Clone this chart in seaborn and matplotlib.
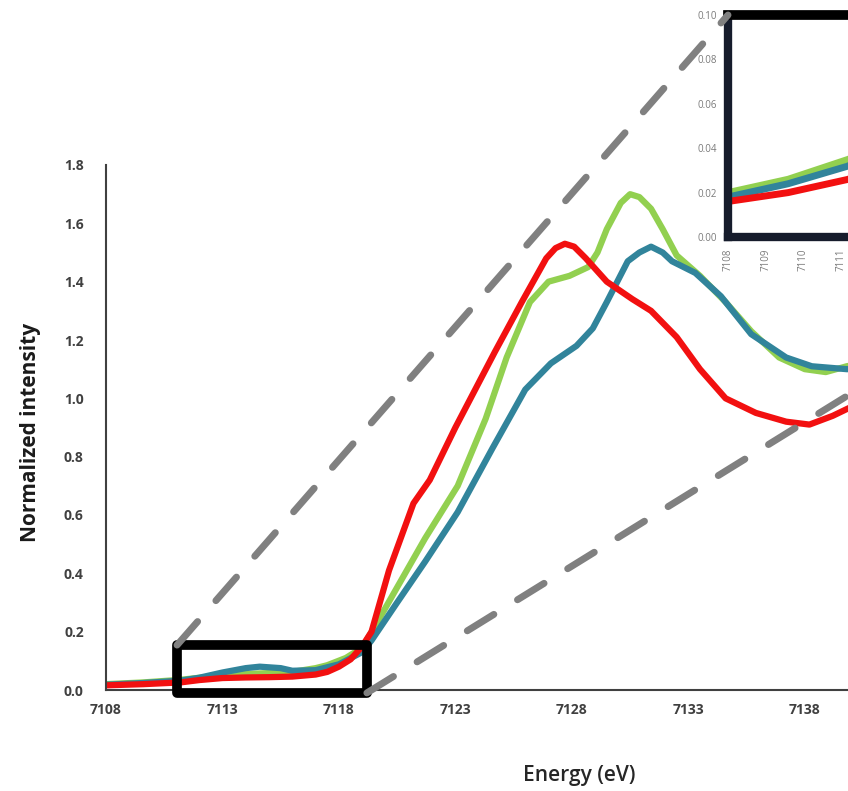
import numpy as np
import pandas as pd
import matplotlib
matplotlib.use('Agg')
import matplotlib.pyplot as plt
from matplotlib.patches import Rectangle, ConnectionPatch
from matplotlib.ticker import FormatStrFormatter
import seaborn as sns

# values (energy in eV, normalized intensity)
green_energy = [7108, 7109.6, 7111.2, 7112, 7113, 7114, 7115, 7116, 7117, 7117.5, 7118.3,
                7119, 7119.7, 7120.7, 7121.7, 7123.1, 7124.3, 7125.2, 7126.2, 7127.0, 7127.9,
                7128.7, 7129.1, 7129.5, 7130.1, 7130.5, 7130.9, 7131.4, 7131.9, 7132.5,
                7133.5, 7134.6, 7135.7, 7136.9, 7138.0, 7138.9, 7139.8, 7140.5]
green_int = [0.020, 0.026, 0.035, 0.042, 0.050, 0.055, 0.058, 0.062, 0.075, 0.085, 0.11,
             0.145, 0.24, 0.38, 0.52, 0.70, 0.93, 1.14, 1.33, 1.40, 1.42,
             1.45, 1.50, 1.58, 1.67, 1.70, 1.69, 1.65, 1.58, 1.49,
             1.42, 1.33, 1.23, 1.14, 1.10, 1.09, 1.11, 1.12]

blue_energy = [7108, 7109.6, 7111.2, 7112, 7113, 7114, 7114.6, 7115.5, 7116, 7117, 7118,
               7119, 7119.4, 7120.5, 7121.7, 7123.1, 7124.6, 7126.0, 7127.1, 7128.2, 7128.9,
               7129.5, 7130.4, 7130.9, 7131.4, 7131.9, 7132.3, 7133.3, 7134.4, 7135.7,
               7137.2, 7138.3, 7139.8, 7140.5]
blue_int = [0.018, 0.024, 0.032, 0.042, 0.060, 0.075, 0.080, 0.075, 0.066, 0.068, 0.088,
            0.13, 0.17, 0.30, 0.44, 0.61, 0.83, 1.03, 1.12, 1.18, 1.24,
            1.33, 1.47, 1.50, 1.52, 1.50, 1.47, 1.43, 1.35, 1.22,
            1.14, 1.11, 1.10, 1.10]

red_energy = [7108, 7109.6, 7111.2, 7112, 7113, 7114, 7115, 7116, 7117, 7117.5, 7118,
              7118.5, 7119, 7119.4, 7120.15, 7121.2, 7121.9, 7123.0, 7124.7, 7125.85,
              7126.9, 7127.3, 7127.7, 7128.1, 7128.6, 7129.5, 7130.6, 7131.4, 7132.5,
              7133.5, 7134.6, 7135.9, 7137.2, 7138.2, 7139.2, 7140.5]
red_int = [0.016, 0.020, 0.026, 0.034, 0.041, 0.043, 0.044, 0.046, 0.053, 0.062, 0.080,
           0.105, 0.150, 0.20, 0.41, 0.64, 0.72, 0.90, 1.16, 1.33,
           1.48, 1.515, 1.53, 1.52, 1.48, 1.40, 1.34, 1.30, 1.21,
           1.10, 1.00, 0.95, 0.92, 0.91, 0.94, 0.99]

# only the ticks that show inside the cropped picture
x_ticks = [7108, 7113, 7118, 7123, 7128, 7133, 7138]
y_ticks = [0.0, 0.2, 0.4, 0.6, 0.8, 1.0, 1.2, 1.4, 1.6, 1.8]
inset_x_ticks = [7108, 7109, 7110, 7111]
inset_y_ticks = [0.00, 0.02, 0.04, 0.06, 0.08, 0.10]

series = ['green', 'blue', 'red']
palette = {'green': '#92D050', 'blue': '#31849B', 'red': '#F21010'}

df = pd.concat([
    pd.DataFrame({'energy': green_energy, 'intensity': green_int, 'sample': 'green'}),
    pd.DataFrame({'energy': blue_energy, 'intensity': blue_int, 'sample': 'blue'}),
    pd.DataFrame({'energy': red_energy, 'intensity': red_int, 'sample': 'red'}),
], ignore_index=True)

sns.set_style('white')
plt.rcParams['font.family'] = ['Open Sans', 'DejaVu Sans']

fig = plt.figure(figsize=(8.48, 7.91), dpi=100)

# main axes (the picture is cropped on the right, so the axes run past the edge)
ax = fig.add_axes([106 / 848, 101 / 791, 955 / 848, 525 / 791])
sns.lineplot(data=df, x='energy', y='intensity', hue='sample', hue_order=series,
             palette=palette, lw=4.5, sort=False, estimator=None, legend=False, ax=ax)
ax.set_xlim(7108, 7149)
ax.set_ylim(0, 1.8)
ax.set_xticks(x_ticks)
ax.set_yticks(y_ticks)
ax.yaxis.set_major_formatter(FormatStrFormatter('%.1f'))
for s in ['top', 'right']:
    ax.spines[s].set_visible(False)
for s in ['left', 'bottom']:
    ax.spines[s].set_color('#404040')
    ax.spines[s].set_linewidth(1.5)
ax.tick_params(axis='both', length=0, labelsize=10, labelcolor='#404040')
ax.tick_params(axis='y', pad=16)
ax.tick_params(axis='x', pad=9)
for lab in ax.get_xticklabels() + ax.get_yticklabels():
    lab.set_fontweight('bold')
ax.set_xlabel('Energy (eV)', fontsize=15, fontweight='semibold', color='#262626')
ax.set_ylabel('Normalized intensity', fontsize=15, fontweight='bold', color='#1a1a1a')
ax.xaxis.set_label_coords(0.496, -0.142)
ax.yaxis.set_label_coords(-0.068, 0.49)

# zoom box around the pre-edge
box = Rectangle((7111.05, -0.01), 7119.2 - 7111.05, 0.164, fill=False,
                edgecolor='black', lw=7, joinstyle='round', clip_on=False, zorder=5)
ax.add_patch(box)

# inset with the pre-edge detail
axins = fig.add_axes([728 / 848, 554 / 791, 376 / 848, 222 / 791])
axins.set_facecolor('white')
sns.lineplot(data=df, x='energy', y='intensity', hue='sample', hue_order=series,
             palette=palette, lw=5, sort=False, estimator=None, legend=False, ax=axins)
axins.set_xlim(7108, 7118)
axins.set_ylim(0, 0.10)
axins.set_xticks(inset_x_ticks)
axins.set_yticks(inset_y_ticks)
axins.yaxis.set_major_formatter(FormatStrFormatter('%.2f'))
axins.set_xlabel('')
axins.set_ylabel('')
axins.tick_params(axis='both', length=0, labelsize=7, labelcolor='#7a7a7a')
axins.tick_params(axis='x', labelrotation=90, pad=8)
axins.tick_params(axis='y', pad=8)
for s in ['left', 'bottom', 'right']:
    axins.spines[s].set_color('#161c2c')
    axins.spines[s].set_linewidth(6)
axins.spines['top'].set_color('black')
axins.spines['top'].set_linewidth(7)

# dashed connectors from the box to the inset
for xy_a, xy_b in [((7111.05, 0.154), (0, 1)), ((7119.2, -0.01), (1, 0))]:
    con = ConnectionPatch(xyA=xy_a, coordsA=ax.transData, xyB=xy_b, coordsB=axins.transAxes,
                          color='#808080', lw=5, linestyle=(0, (4.5, 4)), zorder=1)
    fig.add_artist(con)

fig.savefig('out.png', dpi=100)
